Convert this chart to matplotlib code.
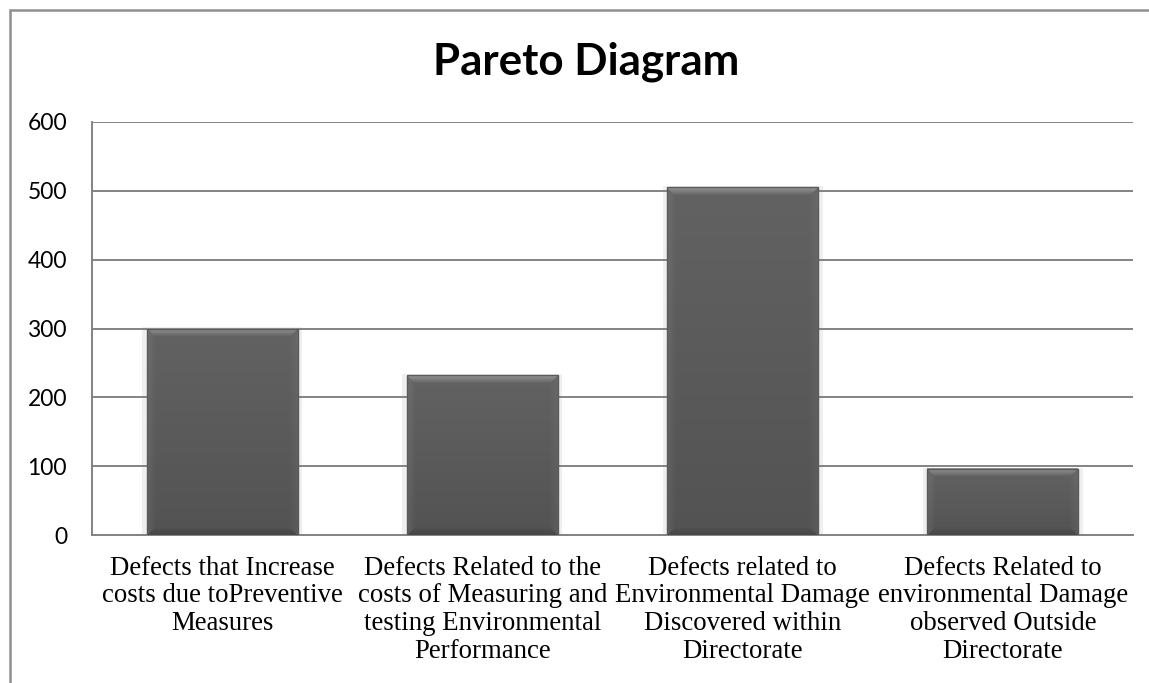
import numpy as np
import matplotlib.pyplot as plt
from matplotlib.patches import Rectangle

categories = [
    "Defects that Increase\ncosts due toPreventive\nMeasures",
    "Defects Related to the\ncosts of Measuring and\ntesting Environmental\nPerformance",
    "Defects related to\nEnvironmental Damage\nDiscovered within\nDirectorate",
    "Defects Related to\nenvironmental Damage\nobserved Outside\nDirectorate",
]
counts = [300, 232, 505, 96]
y_ticks = [0, 100, 200, 300, 400, 500, 600]

W, H = 1149, 683
fig = plt.figure(figsize=(W / 100, H / 100), dpi=100)
fig.patch.set_facecolor("white")

# outer chart frame (runs past the right and bottom edges)
fig.patches.append(Rectangle((10 / W, -0.1), 1.2, 1 - 10 / H + 0.1,
                             transform=fig.transFigure, fill=False,
                             edgecolor="#8f8f8f", linewidth=1.8))

ax = fig.add_axes([92 / W, 1 - 535 / H, (1133 - 92) / W, (535 - 122) / H])
ax.set_xlim(-0.5, len(counts) - 0.5)
ax.set_ylim(0, 600)

grid_c = "#838383"
ax.set_yticks(y_ticks)
ax.yaxis.grid(True, color=grid_c, linewidth=1.4, zorder=1)
ax.set_axisbelow(False)
for s in ["top", "right"]:
    ax.spines[s].set_visible(False)
for s in ["left", "bottom"]:
    ax.spines[s].set_color(grid_c)
    ax.spines[s].set_linewidth(1.4)
    ax.spines[s].set_zorder(2)
ax.tick_params(length=0)
ax.tick_params(axis="y", pad=18, labelsize=16.5, labelcolor="black")
for lbl in ax.get_yticklabels():
    lbl.set_family("Lato")

x = np.arange(len(counts))
ax.set_xticks(x)
ax.set_xticklabels(categories, family="Liberation Serif", fontsize=19.3,
                   linespacing=1.14)
ax.tick_params(axis="x", pad=15)

bw = 0.58
# soft halo behind each bar
ax.bar(x, [c + 2 for c in counts], width=bw + 0.035, color="#efefef",
       zorder=0.5, linewidth=0)

# bevelled fill for each bar
fig.canvas.draw()
px_per_x = ax.transData.transform((1, 0))[0] - ax.transData.transform((0, 0))[0]
px_per_y = ax.transData.transform((0, 1))[1] - ax.transData.transform((0, 0))[1]
b = 8.0
for xi, c in zip(x, counts):
    w = max(int(round(bw * px_per_x)), 2)
    h = max(int(round(c * px_per_y)), 2)
    yy = np.arange(h)[:, None] * np.ones((1, w))
    xx = np.ones((h, 1)) * np.arange(w)[None, :]
    base = 0.385 - 0.06 * yy / h
    d = np.stack([yy, w - 1 - xx, xx, h - 1 - yy])
    which = np.argmin(d, axis=0)
    dmin = np.min(d, axis=0)
    f = np.clip(1 - dmin / b, 0, 1)
    shade = np.array([0.2, 0.03, 0.05, -0.05])[which]
    g = np.clip(base + shade * f, 0, 1)
    img = np.dstack([g, g, g])
    ax.imshow(img, extent=(xi - bw / 2, xi + bw / 2, 0, c), aspect="auto",
              interpolation="bilinear", zorder=3)
ax.bar(x, counts, width=bw, facecolor="none", edgecolor="#5a5a5a",
       linewidth=1.0, zorder=4)
ax.set_xlim(-0.5, len(counts) - 0.5)
ax.set_ylim(0, 600)

fig.text(586 / W, 1 - 62 / H, "Pareto Diagram", ha="center", va="center",
         family="Lato", fontweight="bold", fontsize=31.6)

fig.savefig("out.png", dpi=100)
